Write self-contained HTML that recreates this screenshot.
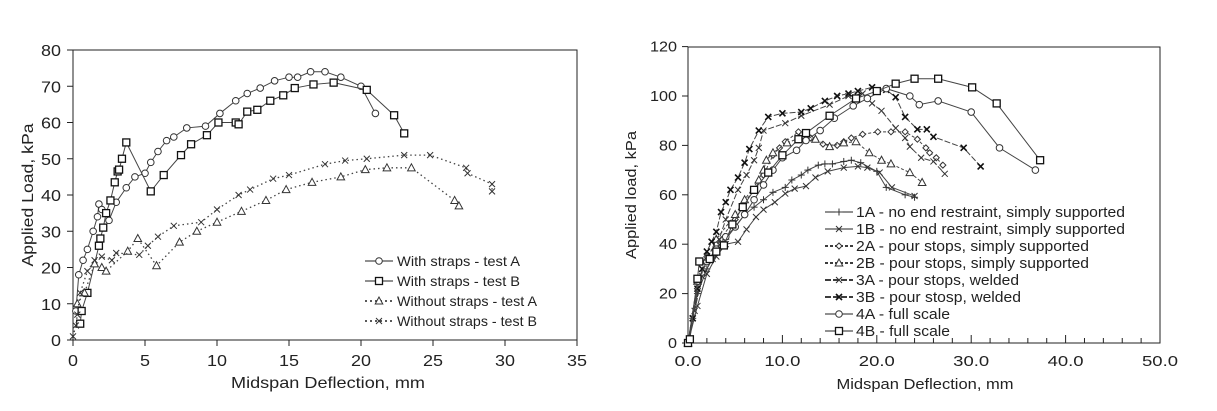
<!DOCTYPE html>
<html><head><meta charset="utf-8"><style>
html,body{margin:0;padding:0;background:#fff;}
svg{display:block;font-family:"Liberation Sans",sans-serif;}
</style></head><body>
<svg id="s" width="1217" height="411" viewBox="0 0 1217 411" xmlns="http://www.w3.org/2000/svg"></svg>
<script>
const S=document.getElementById('s');let h='';
function L(x1,y1,x2,y2,w,c,d){h+=`<line x1="${x1}" y1="${y1}" x2="${x2}" y2="${y2}" stroke="${c||'#222'}" stroke-width="${w||1}" ${d?'stroke-dasharray="'+d+'"':''}/>`;}
function T(x,y,t,sz,anc,rot,len){h+=`<text x="${x}" y="${y}" font-size="${sz}" fill="#222" text-anchor="${anc||'middle'}" ${len?`textLength="${len}" lengthAdjust="spacingAndGlyphs"`:''} ${rot?`transform="rotate(-90 ${x} ${y})"`:''}>${t}</text>`;}
function mk(x,y,m){const c='#333';
 if(m=='o')h+=`<circle cx="${x}" cy="${y}" r="3.3" fill="#fff" stroke="${c}" stroke-width="1"/>`;
 else if(m=='s')h+=`<rect x="${x-3.5}" y="${y-3.5}" width="7" height="7" fill="#fff" stroke="#111" stroke-width="1.3"/>`;
 else if(m=='t')h+=`<polygon points="${x},${y-4} ${x-3.8},${y+3} ${x+3.8},${y+3}" fill="#fff" stroke="${c}" stroke-width="1"/>`;
 else if(m=='x'){L(x-3,y-3,x+3,y+3,1,c);L(x-3,y+3,x+3,y-3,1,c);}
 else if(m=='+'){L(x-3.5,y,x+3.5,y,1,c);L(x,y-3.5,x,y+3.5,1,c);}
 else if(m=='d')h+=`<polygon points="${x},${y-3} ${x-3},${y} ${x},${y+3} ${x+3},${y}" fill="#fff" stroke="${c}" stroke-width="1"/>`;
 else if(m=='X'){L(x-3,y-3,x+3,y+3,1.6,'#111');L(x-3,y+3,x+3,y-3,1.6,'#111');}
}
function series(pts,fx,fy,m,dash,w){const p=pts.map(a=>[fx(a[0]),fy(a[1])]);
 h+=`<polyline points="${p.map(q=>q.join(',')).join(' ')}" fill="none" stroke="#444" stroke-width="${w||1}" ${dash?'stroke-dasharray="'+dash+'"':''}/>`;
 if(m)p.forEach(q=>mk(q[0],q[1],m));}
// LEFT
const lx=v=>73+v*14.4, ly=v=>340-v*3.625;
h+=`<rect x="73" y="50" width="504" height="290" fill="none" stroke="#222" stroke-width="1"/>`;
for(let i=0;i<=35;i+=5){L(lx(i),340,lx(i),346);T(lx(i),366,i,16,'middle',0,(String(i).length*10));}
for(let i=0;i<=80;i+=10){L(67,ly(i),73,ly(i));T(61,ly(i)+6,i,16,'end',0,String(i).length*10);}
T(328,388,'Midspan Deflection, mm',16,'middle',0,194);T(33,195,'Applied Load, kPa',16,'middle',1,143);
series([[0.2,8],[0.4,18],[0.7,22],[1,25],[1.4,30],[1.7,34],[1.8,37.5],[2,36],[2.5,33],[3,38],[3.7,42],[4.3,45],[5,46],[5.4,49],[5.9,52],[6.5,55],[7,56],[7.9,58.5],[9.2,59],[10.2,62.5],[11.3,66],[12.1,68],[13,69.5],[14,71.5],[15,72.5],[15.6,72.5],[16.5,74],[17.5,74],[18.6,72.5],[20,70],[21,62.5]],lx,ly,'o');
series([[0.5,4.5],[0.6,8],[1,13],[1.8,26],[1.9,28],[2.1,31],[2.3,35],[2.6,38.5],[2.9,43.5],[3.1,46.5],[3.2,47],[3.4,50],[3.7,54.5],[5.4,41],[6.3,45.5],[7.5,51],[8.2,54],[9.3,56.5],[10.1,60],[11.3,60],[11.5,59.5],[12.1,63],[12.8,63.5],[13.7,66],[14.6,67.5],[15.4,69.5],[16.7,70.5],[18.1,71],[20.4,69],[22.3,62],[23,57]],lx,ly,'s');
series([[0.3,10],[0.8,13],[1.5,21],[2,20],[2.3,19],[3.8,24.5],[4.5,28],[5.8,20.5],[7.4,27],[8.6,30],[10,32.5],[11.7,35.5],[13.4,38.5],[14.8,41.5],[16.6,43.5],[18.6,45],[20.3,47],[21.8,47.5],[23.5,47.5],[26.5,38.5],[26.8,37]],lx,ly,'t','1.5 3',1.3);
series([[0,1],[0.2,4],[0.3,7],[0.5,13],[1,19],[1.5,22],[2,23],[2.7,22],[3,24],[4.6,23.5],[5.2,26],[5.9,28.5],[7,31.5],[8.9,32.5],[10,36],[11.5,40],[12.3,41.5],[13.9,44.5],[15,45.5],[17.5,48.5],[18.9,49.5],[20.4,50],[23,51],[24.8,51],[27.3,47.5],[27.4,46],[29.1,43],[29.1,41]],lx,ly,'x','1.5 3',1.3);
[['o','With straps - test A','',123],['s','With straps - test B','',123],['t','Without straps - test A','2 3',140],['x','Without straps - test B','2 3',140]].forEach((e,i)=>{const yy=[261,281,301,321][i];
 L(365,yy,393,yy,e[2]?1.6:1,'#222',e[2]);mk(379,yy,e[0]);T(397,yy+5,e[1],14,'start',0,e[3]);});
// RIGHT
const rx=v=>688+v*9.44, ry=v=>343-v*2.47;
h+=`<rect x="688" y="47" width="472" height="296" fill="none" stroke="#222" stroke-width="1"/>`;
for(let i=0;i<=50;i+=2){L(rx(i),343,rx(i),i%10?338:335);}
for(let i=0;i<=50;i+=10){const s=i.toFixed(1);T(rx(i),366,s,15,'middle',0,s.length*9);}
for(let i=0;i<=120;i+=20){L(682,ry(i),688,ry(i));T(677,ry(i)+5,i,15,'end',0,String(i).length*9);}
T(925,389,'Midspan Deflection, mm',15,'middle',0,177);T(636,195,'Applied load, kPa',15,'middle',1,128);
series([[0,0],[0.5,10],[1,20],[2,30],[3,37],[4,42],[5,47],[6,52],[7,55],[8,58],[9,61],[10.3,63],[11,66],[12,68],[12.7,70],[13.8,72],[14.5,72.5],[15.3,72.5],[16.5,73.5],[17.3,74],[18.3,73],[20,69.5],[21,63],[23,60],[24,59]],rx,ry,'+');
series([[0,0],[1,15],[2,28],[3,35],[4,40],[5.3,41],[6.2,46],[7.2,51],[8,54],[9.2,57],[10.3,60.5],[11.3,62.5],[12.5,63.5],[13.5,67],[14.8,69.5],[16.5,71],[18,71.5],[19,71],[20.3,69],[21.6,63],[24,59.5]],rx,ry,'x');
series([[0,0],[1,22],[2,35],[3,40],[5,50],[6,57],[7,62],[8,68],[9,76],[9.7,79],[10.3,81.5],[11.7,85.5],[13,83],[14.3,80.5],[15.8,80],[16.5,81.5],[17.3,83],[18.5,84.5],[20.1,85.5],[21.5,85.5],[23,85.5],[24.3,82.5],[25.2,79],[25.6,77],[26.3,75],[27,72]],rx,ry,'d','3 2');
series([[0,0],[1,25],[3,42],[5,52],[6,58],[7.5,66],[8,70],[8.3,74],[9,77],[10.5,81],[11.8,83],[13.5,82.5],[15,79.5],[16.5,81],[17.8,81.5],[19.2,77],[20.5,74],[21.5,72.5],[23.5,69],[24.8,65]],rx,ry,'t','3 2');
series([[0,0],[0.7,13],[1.5,27],[2.6,34],[3.3,42],[4,50],[5.3,62],[6.2,68],[7,74],[7.5,79],[8,86],[10.3,89],[12,92],[15,96.5],[17,100],[18.5,101],[19.5,97],[20.5,94],[22,87],[23,83],[23.5,79.5],[24.7,75],[26,73.5],[27.2,68.5]],rx,ry,'x','6 2');
series([[0,0],[0.5,10],[1,22],[1.5,30],[2,37],[2.5,41],[3,45],[3.5,53],[4,57],[4.5,62],[5.3,67],[6,73],[6.5,78.5],[7.5,86],[8.5,91.5],[10,93],[12,93.5],[13,95],[14.5,98],[15.8,100],[17,101],[18,102],[19.5,103.5],[21,102.5],[22,99.5],[23,91.5],[24.3,86.5],[25.3,86.5],[26,83.5],[29.2,79],[31,71.5]],rx,ry,'X','6 2');
series([[0,0],[1,25],[2,33],[3,38],[4,43],[5,47],[6,52],[7,58],[8,64],[9,70],[10,75],[11.5,78],[12.5,82],[14,86],[15.5,91],[17.5,96],[19,99],[21,103],[23.5,100],[24.5,96.5],[26.5,98],[30,93.5],[33,79],[36.8,70]],rx,ry,'o');
series([[0,0],[0.2,1.5],[1,26],[1.2,33],[2.3,34],[3,37],[3.8,39.5],[4.7,48],[5.8,55],[7,62],[8.5,69],[10,76],[11.7,82.5],[12.5,85],[15,92],[17.8,99],[20,102],[22,105],[24,107],[26.5,107],[30.1,103.5],[32.7,97],[37.3,74]],rx,ry,'s');
[['+','1A - no end restraint, simply supported','',269],['x','1B - no end restraint, simply supported','',269],['d','2A - pour stops, simply supported','3 2',233],['t','2B - pour stops, simply supported','3 2',233],['x','3A - pour stops, welded','6 2',163],['X','3B - pour stosp, welded','6 2',165],['o','4A - full scale','',94],['s','4B - full scale','',94]].forEach((e,i)=>{const y=212+i*17;
 L(825,y,853,y,e[2]?1.8:1,'#222',e[2]);mk(839,y,e[0]);T(856,y+5,e[1],15,'start',0,e[3]);});
S.innerHTML=h;
</script>
</body></html>
